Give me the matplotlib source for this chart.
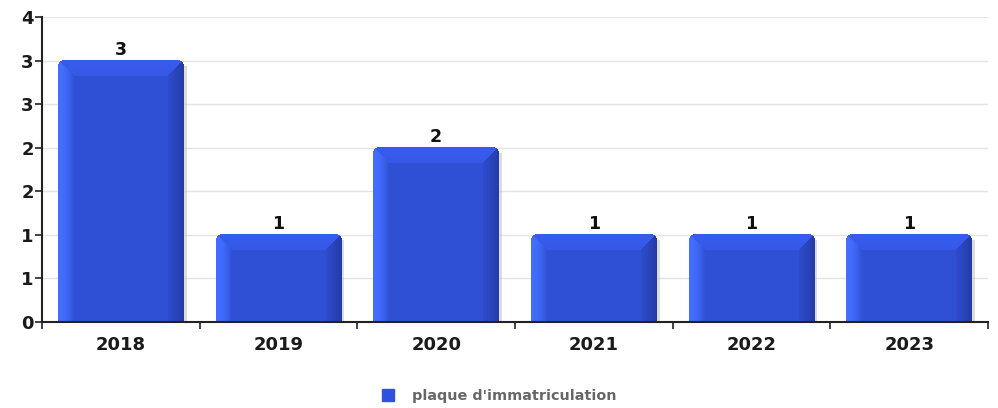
import numpy as np
import matplotlib
matplotlib.use("Agg")
from matplotlib import pyplot as plt
from matplotlib.patches import Patch
from matplotlib.ticker import FixedLocator

# data
years = ['2018', '2019', '2020', '2021', '2022', '2023']
counts = [3, 1, 2, 1, 1, 1]
series_name = "plaque d'immatriculation"
yticks = [0, 0.5, 1, 1.5, 2, 2.5, 3, 3.5]
ytick_labels = ['0', '1', '1', '2', '2', '3', '3', '4']

W, H = 998, 408
fig = plt.figure(figsize=(W / 100, H / 100), dpi=100)
ax = fig.add_axes([42 / W, (H - 322) / H, (988 - 42) / W, (322 - 17) / H])

x = np.arange(len(years))
bar_w = 0.795
ax.set_xlim(-0.5, len(years) - 0.5)
ax.set_ylim(0, 3.5)

# colors for the bevelled bar look
c_mid = np.array([0x2f, 0x50, 0xd4]) / 255
c_light = np.array([0x44, 0x6e, 0xff]) / 255
c_top = np.array([0x38, 0x5c, 0xee]) / 255
c_dark = np.array([0x24, 0x3a, 0xa4]) / 255
c_right = np.array([0x2e, 0x4c, 0xcc]) / 255

bars = ax.bar(x, counts, width=bar_w, color='none', edgecolor='none', zorder=2)

# pixel scale of the data units
px_x = ax.transData.transform((1, 0))[0] - ax.transData.transform((0, 0))[0]
px_y = ax.transData.transform((0, 1))[1] - ax.transData.transform((0, 0))[1]
bev = 16.0
rad = 6.0

for b in bars:
    x0, w, h = b.get_x(), b.get_width(), b.get_height()
    nx = int(round(w * px_x))
    ny = int(round(h * px_y))
    u = np.arange(nx)[None, :] + 0.5
    v = np.arange(ny)[:, None] + 0.5
    dl = np.broadcast_to(u, (ny, nx))
    dr = np.broadcast_to(nx - u, (ny, nx))
    dt = np.broadcast_to(v, (ny, nx))
    img = np.zeros((ny, nx, 4))
    img[..., :3] = c_mid
    img[..., 3] = 1
    # left strip
    m = (dl < bev) & (dl <= dr) & (dl <= dt)
    t = ((dl / bev) ** 2.2)[..., None]
    img[m, :3] = (c_light * (1 - t) + c_mid * t)[m]
    # right strip
    m = (dr < bev) & (dr < dl) & (dr <= dt)
    t = ((dr / bev) ** 0.8)[..., None]
    img[m, :3] = (c_dark * (1 - t) + c_right * t)[m]
    # top strip
    m = (dt < bev) & (dt < dl) & (dt < dr)
    t = (dt / bev)[..., None]
    img[m, :3] = (c_top * (1 - t * 0.3) + c_mid * t * 0.3)[m]
    # thin light line at the bottom
    img[-1, :, :3] = c_light
    # rounded top corners
    left_out = (u < rad) & (v < rad) & (np.hypot(u - rad, v - rad) > rad)
    right_out = (u > nx - rad) & (v < rad) & (np.hypot(u - (nx - rad), v - rad) > rad)
    img[np.broadcast_to(left_out | right_out, (ny, nx)), 3] = 0
    # light shadow on the right side
    ax.fill_between([x0 + w, x0 + w + 3 / px_x], 0, h - 5 / px_y,
                    color='#bbbbbb', alpha=0.5, lw=0, zorder=1.5)
    ax.imshow(img, extent=[x0, x0 + w, 0, h], aspect='auto', zorder=2,
              interpolation='nearest')

ax.set_xlim(-0.5, len(years) - 0.5)
ax.set_ylim(0, 3.5)

for xi, c in zip(x, counts):
    ax.annotate(str(c), (xi, c), xytext=(0, 1), textcoords='offset points',
                ha='center', va='bottom', fontsize=12.5, fontweight='bold',
                color='#111111', zorder=3)

ax.set_xticks(x)
ax.set_xticklabels(years, fontsize=13, fontweight='bold', color='#1a1a1a')
ax.xaxis.set_minor_locator(FixedLocator(np.arange(len(years) + 1) - 0.5))
ax.tick_params(axis='x', which='major', length=0, pad=10)
ax.tick_params(axis='x', which='minor', length=5, width=1.2, color='#222222')
ax.set_yticks(yticks)
ax.set_yticklabels(ytick_labels, fontsize=13, fontweight='bold', color='#1a1a1a')
ax.tick_params(axis='y', length=5, width=1.2, color='#222222', pad=1)

ax.grid(axis='y', color='#e4e4e4', lw=1, zorder=0)
ax.set_axisbelow(True)
for s in ('top', 'right'):
    ax.spines[s].set_visible(False)
for s in ('left', 'bottom'):
    ax.spines[s].set_linewidth(1.5)
    ax.spines[s].set_color('#222222')

fig.legend(handles=[Patch(color='#3050e0', label=series_name)],
           loc='center', bbox_to_anchor=(0.5, (H - 396) / H), frameon=False,
           handlelength=0.85, handleheight=0.85, handletextpad=1.2,
           prop={'size': 10.4, 'weight': 'bold'}, labelcolor='#666666')

fig.savefig('out.png', dpi=100)
